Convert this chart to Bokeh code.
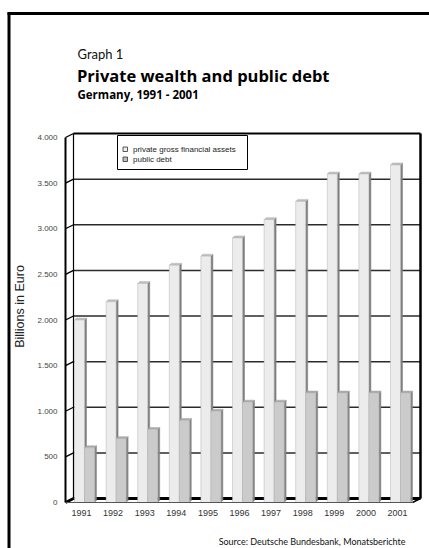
import numpy as np
from bokeh.plotting import figure
from bokeh.models import Range1d
from bokeh.core.properties import value
from bokeh.embed import file_html
from bokeh.resources import INLINE

# ---------------- data ----------------
years = ["1991", "1992", "1993", "1994", "1995", "1996", "1997", "1998", "1999", "2000", "2001"]
private_assets = [2000, 2200, 2400, 2600, 2700, 2900, 3100, 3300, 3600, 3600, 3700]
public_debt = [600, 700, 800, 900, 1000, 1100, 1100, 1200, 1200, 1200, 1200]
y_ticks = [0, 500, 1000, 1500, 2000, 2500, 3000, 3500, 4000]
y_tick_labels = ["0", "500", "1.000", "1.500", "2.000", "2.500", "3.000", "3.500", "4.000"]
legend_labels = ["private gross financial assets", "public debt"]

# ---------------- layout / style ----------------
W, H = 429, 548
CAT_PX = 31.6          # pixels per category
CAT0_PX = 84.0         # pixel x of first category centre (bar junction)
VAL_PX = 0.09125       # pixels per value unit
BASE_PX = 502.0        # pixel y (from top) of value 0

BAR_W = 10 / CAT_PX
BAR_DX = 2 / CAT_PX
BAR_DY = 2 / VAL_PX
WALL_DX = 8 / CAT_PX
WALL_DY = 4 / VAL_PX
AXIS_X = (65 - CAT0_PX) / CAT_PX
AXIS_R = (412 - CAT0_PX) / CAT_PX
WALL_L = AXIS_X + WALL_DX
WALL_R = AXIS_R + WALL_DX
YMAX = y_ticks[-1]

FONT_SANS = value("Liberation Sans")
FONT_HUM = value("Lato")
FONT_TITLE = value("Open Sans")

p = figure(
    width=W, height=H,
    x_range=Range1d(-CAT0_PX / CAT_PX, (W - CAT0_PX) / CAT_PX),
    y_range=Range1d(-(H - BASE_PX) / VAL_PX, BASE_PX / VAL_PX),
    output_backend="svg", toolbar_location=None,
    x_axis_location=None, y_axis_location=None,
    min_border=0,
)
p.extra_x_ranges = {"px": Range1d(0, W)}
p.extra_y_ranges = {"px": Range1d(0, H)}
p.grid.visible = False
p.outline_line_color = None
p.background_fill_color = "white"
p.border_fill_color = "white"

PX = dict(x_range_name="px", y_range_name="px")

# page frame (thick border)
p.segment(x0=[8.5], y0=[H - 12], x1=[8.5], y1=[0], line_color="black", line_width=3, **PX)
p.segment(x0=[7], y0=[H - 13], x1=[W], y1=[H - 13], line_color="black", line_width=3, **PX)

# titles
p.text(x=[77], y=[H - 53], text=["Graph 1"], text_font=FONT_HUM, text_font_size="13px",
       text_color="#111111", text_baseline="alphabetic", **PX)
p.text(x=[76.5], y=[H - 75], text=["Private wealth and public debt"], text_font=FONT_TITLE,
       text_font_size="16.5px", text_font_style="bold", text_color="#000000",
       text_baseline="alphabetic", **PX)
p.text(x=[77], y=[H - 94], text=["Germany, 1991 - 2001"], text_font=FONT_TITLE,
       text_font_size="11.5px", text_font_style="bold", text_color="#000000",
       text_baseline="alphabetic", **PX)
p.text(x=[405], y=[H - 541], text=["Source: Deutsche Bundesbank, Monatsberichte"],
       text_font=FONT_HUM, text_font_size="9px", text_color="#111111",
       text_align="right", text_baseline="alphabetic", **PX)
p.text(x=[19], y=[H - 306], text=["Billions in Euro"], angle=np.pi / 2,
       text_font=FONT_SANS, text_font_size="12.5px", text_color="#222222",
       text_align="center", text_baseline="middle", **PX)

# back wall gridlines
grid_vals = [v for v in y_ticks if 0 < v < YMAX]
p.segment(x0=[WALL_L] * len(grid_vals), x1=[WALL_R] * len(grid_vals),
          y0=[v + WALL_DY for v in grid_vals], y1=[v + WALL_DY for v in grid_vals],
          line_color="#2b2b2b", line_width=1.5)
# back wall frame
p.segment(x0=[WALL_L], x1=[WALL_R], y0=[YMAX + WALL_DY], y1=[YMAX + WALL_DY],
          line_color="black", line_width=2)
p.segment(x0=[WALL_L], x1=[WALL_L], y0=[WALL_DY], y1=[YMAX + WALL_DY],
          line_color="black", line_width=1.2)
p.segment(x0=[WALL_R], x1=[WALL_R], y0=[WALL_DY], y1=[YMAX + WALL_DY],
          line_color="black", line_width=2.5)
# left side wall diagonals
p.segment(x0=[AXIS_X] * len(y_ticks), x1=[WALL_L] * len(y_ticks),
          y0=y_ticks, y1=[v + WALL_DY for v in y_ticks],
          line_color="black", line_width=[3] + [1.3] * (len(y_ticks) - 1))
# front axis line
p.segment(x0=[AXIS_X], x1=[AXIS_X], y0=[0], y1=[YMAX], line_color="black", line_width=2)
# floor
p.segment(x0=[WALL_L], x1=[WALL_R], y0=[WALL_DY], y1=[WALL_DY], line_color="black", line_width=3)
p.segment(x0=[AXIS_R], x1=[WALL_R], y0=[0], y1=[WALL_DY], line_color="black", line_width=1.5)

# y tick labels
p.text(x=[AXIS_X] * len(y_ticks), y=y_ticks, text=y_tick_labels, x_offset=-8,
       text_font=FONT_SANS, text_font_size="8px", text_color="#444444",
       text_align="right", text_baseline="middle")

# bars
idx = np.arange(len(years), dtype=float)


def draw_bars(left, vals, front, side, top):
    right = left + BAR_W
    side_xs, side_ys, top_xs, top_ys = [], [], [], []
    for x0, x1, v in zip(left, right, vals):
        side_xs.append([x1, x1, x1 + BAR_DX, x1 + BAR_DX])
        side_ys.append([0, v, v + BAR_DY, BAR_DY])
        top_xs.append([x0, x1, x1 + BAR_DX, x0 + BAR_DX])
        top_ys.append([v, v, v + BAR_DY, v + BAR_DY])
    p.patches(side_xs, side_ys, fill_color=side, line_color=side, line_width=0.5)
    p.patches(top_xs, top_ys, fill_color=top, line_color=top, line_width=0.5)
    p.quad(left=left, right=right, bottom=0, top=vals, fill_color=front,
           line_color="#b5b5b5", line_width=0.5)


draw_bars(idx - BAR_W, private_assets, "#ececec", "#7e7e7e", "#bdbdbd")
draw_bars(idx, public_debt, "#cbcbcb", "#858585", "#a9a9a9")

# front floor edge
p.segment(x0=[AXIS_X], x1=[AXIS_R], y0=[0], y1=[0], line_color="#555555", line_width=1)

# x labels
p.text(x=list(idx), y=[0] * len(years), text=years, x_offset=-3, y_offset=10,
       text_font=FONT_SANS, text_font_size="9px", text_color="#333333",
       text_align="center", text_baseline="middle")

# legend
p.quad(left=[117], right=[247], bottom=[H - 169], top=[H - 135], fill_color="white",
       line_color="black", line_width=1, **PX)
p.quad(left=[122.5, 122.5], right=[127, 127], bottom=[H - 151, H - 161], top=[H - 146.5, H - 156.5],
       fill_color=["#ececec", "#bdbdbd"], line_color="#333333", line_width=0.8, **PX)
p.text(x=[132.5, 132.5], y=[H - 148.7, H - 158.7], text=legend_labels,
       text_font=FONT_SANS, text_font_size="8px", text_color="#222222",
       text_baseline="middle", **PX)

open("out.html", "w").write(file_html(p, INLINE))
